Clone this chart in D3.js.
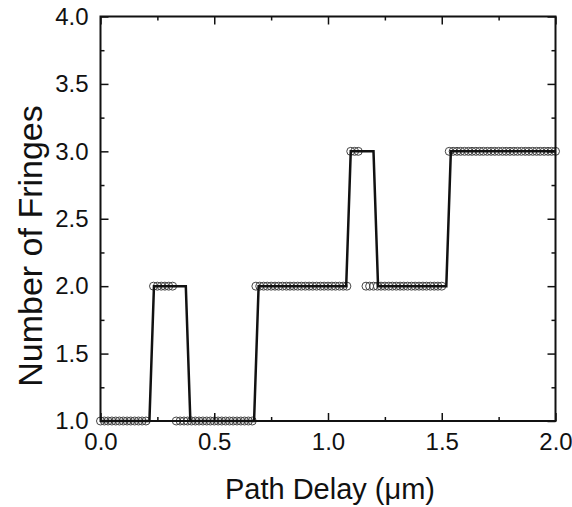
<!DOCTYPE html>
<html><head><meta charset="utf-8">
<script src="https://cdn.jsdelivr.net/npm/d3@7"></script>
<style>html,body{margin:0;padding:0;background:#fff;}svg{display:block;font-family:"Liberation Sans",Arial,sans-serif;}</style>
</head><body>
<script>
// Measured points (open circles): path delay (um) and number of fringes
const measX = [0.000,0.017,0.033,0.050,0.067,0.083,0.100,0.117,0.133,0.150,0.167,0.183,0.200,
  0.233,0.250,0.267,0.283,0.300,0.317,
  0.333,0.350,0.367,0.383,0.400,0.417,0.433,0.450,0.467,0.483,0.500,0.517,0.533,0.550,0.567,0.583,0.600,0.617,0.633,0.650,0.667,
  0.683,0.700,0.717,0.733,0.750,0.767,0.783,0.800,0.817,0.833,0.850,0.867,0.883,0.900,0.917,0.933,0.950,0.967,0.983,1.000,1.017,1.033,1.050,1.067,1.083,
  1.100,1.117,1.133,
  1.167,1.183,1.200,1.217,1.233,1.250,1.267,1.283,1.300,1.317,1.333,1.350,1.367,1.383,1.400,1.417,1.433,1.450,1.467,1.483,1.500,
  1.533,1.550,1.567,1.583,1.600,1.617,1.633,1.650,1.667,1.683,1.700,1.717,1.733,1.750,1.767,1.783,1.800,1.817,1.833,1.850,1.867,1.883,1.900,1.917,1.933,1.950,1.967,1.983,2.000];
const measY = [1,1,1,1,1,1,1,1,1,1,1,1,1,
  2,2,2,2,2,2,
  1,1,1,1,1,1,1,1,1,1,1,1,1,1,1,1,1,1,1,1,1,
  2,2,2,2,2,2,2,2,2,2,2,2,2,2,2,2,2,2,2,2,2,2,2,2,2,
  3,3,3,
  2,2,2,2,2,2,2,2,2,2,2,2,2,2,2,2,2,2,2,2,2,
  3,3,3,3,3,3,3,3,3,3,3,3,3,3,3,3,3,3,3,3,3,3,3,3,3,3,3,3,3];
// Calculated curve (solid line)
const lineX = [0, 0.215, 0.235, 0.375, 0.395, 0.675, 0.695, 1.08, 1.10, 1.20, 1.22, 1.52, 1.54, 2.0];
const lineY = [1, 1, 2, 2, 1, 1, 2, 2, 3, 3, 2, 2, 3, 3];
const xTicks = [0.0, 0.5, 1.0, 1.5, 2.0];
const yTicks = [1.0, 1.5, 2.0, 2.5, 3.0, 3.5, 4.0];
const xMinor = [0.25, 0.75, 1.25, 1.75];
const yMinor = [1.25, 1.75, 2.25, 2.75, 3.25, 3.75];

const W = 572, H = 507;
const m = {left: 100.5, right: 16.5, top: 16.5, bottom: 86};
const svg = d3.select("body").append("svg").attr("width", W).attr("height", H);
const x = d3.scaleLinear().domain([0, 2]).range([m.left, W - m.right]);
const y = d3.scaleLinear().domain([1, 4]).range([H - m.bottom, m.top]);

const g = svg.append("g");
// circles
g.selectAll("circle.pt").data(measX.map((d, i) => [d, measY[i]])).enter()
  .append("circle").attr("class", "pt")
  .attr("cx", d => x(d[0])).attr("cy", d => y(d[1])).attr("r", 4)
  .attr("fill", "none").attr("stroke", "#444").attr("stroke-width", 1);
// line
g.append("path").datum(lineX.map((d, i) => [d, lineY[i]]))
  .attr("d", d3.line().x(d => x(d[0])).y(d => y(d[1])))
  .attr("fill", "none").attr("stroke", "#111").attr("stroke-width", 2.5);

// axes
const ff = "Liberation Sans, Arial, sans-serif";
const tickStyle = sel => { sel.select(".domain").remove(); sel.selectAll("line").attr("stroke", "#111").attr("stroke-width", 1.5); };
const fs = 24;
svg.append("g").attr("transform", `translate(0,${y(1)})`)
  .call(d3.axisBottom(x).tickValues(xTicks).tickSize(-8).tickPadding(12).tickFormat(d3.format(".1f")))
  .call(tickStyle).call(s => s.selectAll("text").attr("font-size", fs).attr("fill", "#111").attr("font-family", ff));
svg.append("g").attr("transform", `translate(0,${y(1)})`)
  .call(d3.axisBottom(x).tickValues(xMinor).tickSize(-4).tickFormat("")).call(tickStyle);
svg.append("g").attr("transform", `translate(0,${y(4)})`)
  .call(d3.axisTop(x).tickValues(xTicks).tickSize(-8).tickFormat("")).call(tickStyle);
svg.append("g").attr("transform", `translate(0,${y(4)})`)
  .call(d3.axisTop(x).tickValues(xMinor).tickSize(-4).tickFormat("")).call(tickStyle);
svg.append("g").attr("transform", `translate(${x(0)},0)`)
  .call(d3.axisLeft(y).tickValues(yTicks).tickSize(-8).tickPadding(12).tickFormat(d3.format(".1f")))
  .call(tickStyle).call(s => s.selectAll("text").attr("font-size", fs).attr("fill", "#111").attr("font-family", ff));
svg.append("g").attr("transform", `translate(${x(0)},0)`)
  .call(d3.axisLeft(y).tickValues(yMinor).tickSize(-4).tickFormat("")).call(tickStyle);
svg.append("g").attr("transform", `translate(${x(2)},0)`)
  .call(d3.axisRight(y).tickValues(yTicks).tickSize(-8).tickFormat("")).call(tickStyle);
svg.append("g").attr("transform", `translate(${x(2)},0)`)
  .call(d3.axisRight(y).tickValues(yMinor).tickSize(-4).tickFormat("")).call(tickStyle);

// frame
svg.append("rect").attr("x", x(0)).attr("y", y(4)).attr("width", x(2) - x(0)).attr("height", y(1) - y(4))
  .attr("fill", "none").attr("stroke", "#111").attr("stroke-width", 2);

// titles
svg.append("text").attr("x", 330).attr("y", 499).attr("text-anchor", "middle")
  .attr("font-size", 29).attr("fill", "#111").text("Path Delay (\u03BCm)");
svg.append("text").attr("transform", `translate(42,246) rotate(-90)`).attr("text-anchor", "middle")
  .attr("font-size", 34).attr("fill", "#111").text("Number of Fringes");
</script>
</body></html>
